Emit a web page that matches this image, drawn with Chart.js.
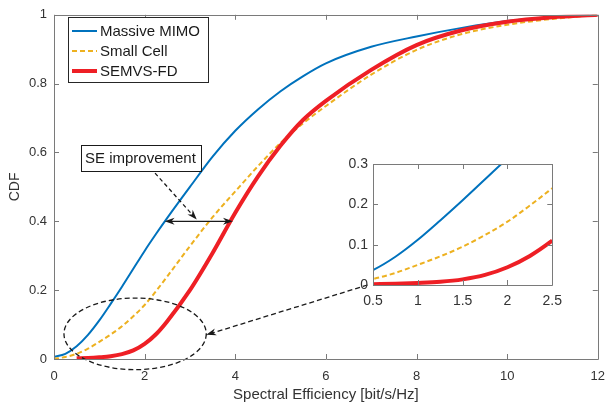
<!DOCTYPE html>
<html>
<head>
<meta charset="utf-8">
<script src="https://cdn.jsdelivr.net/npm/chart.js@4.4.0/dist/chart.umd.min.js"></script>
<style>
  html, body { margin: 0; padding: 0; background: #fff; }
  #wrap { position: relative; width: 615px; height: 411px; }
  #cdf { position: absolute; left: 0; top: 0; }
  #zoomed { position: absolute; left: 330px; top: 150px; }
</style>
</head>
<body>
<div id="wrap">
  <canvas id="cdf" width="615" height="411"></canvas>
  <canvas id="zoomed" width="240" height="165"></canvas>
</div>
<script>
// spectral efficiency samples (bit/s/Hz) and CDF of each scheme
var seAxis      = [0, 0.25, 0.5, 0.75, 1, 1.25, 1.5, 1.75, 2, 2.25, 2.5, 3, 3.5, 4, 4.5, 5, 5.5, 6, 7, 8, 9, 10, 11, 12];
var massiveMimo = [0.006, 0.015, 0.037, 0.07, 0.112, 0.16, 0.21, 0.262, 0.314, 0.363, 0.41, 0.5, 0.588, 0.663, 0.725, 0.778, 0.822, 0.859, 0.907, 0.937, 0.962, 0.982, 0.993, 1];
var smallCell   = [0, 0.006, 0.015, 0.03, 0.05, 0.071, 0.095, 0.124, 0.157, 0.197, 0.24, 0.328, 0.412, 0.487, 0.56, 0.628, 0.685, 0.735, 0.826, 0.898, 0.944, 0.971, 0.988, 1];
var semvsFd     = [null, null, 0.002, 0.003, 0.005, 0.008, 0.014, 0.025, 0.044, 0.072, 0.11, 0.2, 0.308, 0.425, 0.53, 0.62, 0.695, 0.75, 0.84, 0.912, 0.955, 0.98, 0.993, 1];

var seriesNames = ['Massive MIMO', 'Small Cell', 'SEMVS-FD'];
var xTicksMain = [0, 2, 4, 6, 8, 10, 12];
var yTicksMain = [0, 0.2, 0.4, 0.6, 0.8, 1];
var xTicksZoom = [0.5, 1, 1.5, 2, 2.5];
var yTicksZoom = [0, 0.1, 0.2, 0.3];

var BLUE = '#0072bd', YELLOW = '#edb120', RED = '#ee1f25';
var FRAME = '#7a7a7a', TEXT = '#333333';
var FONT = "'Liberation Sans', Arial, sans-serif";

Chart.defaults.font.family = FONT;
Chart.defaults.color = TEXT;

function points(vals) {
    var out = [];
    for (var i = 0; i < seAxis.length; i++) {
        if (vals[i] !== null) out.push({x: seAxis[i], y: vals[i]});
    }
    return out;
}

function makeDatasets() {
    return [
        {label: seriesNames[0], data: points(massiveMimo), borderColor: BLUE, borderWidth: 2, order: 2},
        {label: seriesNames[1], data: points(smallCell), borderColor: YELLOW, borderWidth: 2, borderDash: [5, 3], order: 1},
        {label: seriesNames[2], data: points(semvsFd), borderColor: RED, borderWidth: 4, order: 0}
    ].map(function (d) {
        d.pointRadius = 0;
        d.fill = false;
        d.cubicInterpolationMode = 'monotone';
        return d;
    });
}

// plain number labels: 1 not 1.0
function plainLabel(v) {
    return String(+Number(v).toFixed(2));
}

function fixedTicks(list) {
    return function (s) {
        s.ticks = list.map(function (v) { return {value: v}; });
    };
}

// box around the plot area with ticks pointing inward on all sides
function frameWithTicks(len) {
    return {
        id: 'frame',
        afterDraw: function (chart) {
            var ctx = chart.ctx, a = chart.chartArea;
            var x = chart.scales.x, y = chart.scales.y;
            ctx.save();
            ctx.strokeStyle = FRAME;
            ctx.lineWidth = 1;
            ctx.setLineDash([]);
            ctx.beginPath();
            ctx.rect(Math.round(a.left) + 0.5, Math.round(a.top) + 0.5, Math.round(a.right - a.left), Math.round(a.bottom - a.top));
            x.ticks.forEach(function (t) {
                var px = Math.round(x.getPixelForValue(t.value)) + 0.5;
                ctx.moveTo(px, a.bottom); ctx.lineTo(px, a.bottom - len);
                ctx.moveTo(px, a.top); ctx.lineTo(px, a.top + len);
            });
            y.ticks.forEach(function (t) {
                var py = Math.round(y.getPixelForValue(t.value)) + 0.5;
                ctx.moveTo(a.left, py); ctx.lineTo(a.left + len, py);
                ctx.moveTo(a.right, py); ctx.lineTo(a.right - len, py);
            });
            ctx.stroke();
            ctx.restore();
        }
    };
}

function arrowHead(ctx, x0, y0, x1, y1) {
    var ang = Math.atan2(y1 - y0, x1 - x0), len = 10, half = 3.5;
    var c = Math.cos(ang), s = Math.sin(ang);
    ctx.beginPath();
    ctx.moveTo(x1, y1);
    ctx.lineTo(x1 - len * c + half * s, y1 - len * s - half * c);
    ctx.lineTo(x1 - 0.7 * len * c, y1 - 0.7 * len * s);
    ctx.lineTo(x1 - len * c - half * s, y1 - len * s + half * c);
    ctx.closePath();
    ctx.fill();
}

// where the zoomed axes sit, in main-axis units
var zoomCorner = {x: 6.92, y: 0.215};
var ellipse = {x: 1.79, y: 0.073, rx: 1.57, ry: 0.104};

var notes = {
    id: 'notes',
    afterDatasetsDraw: function (chart) {
        var ctx = chart.ctx, x = chart.scales.x, y = chart.scales.y;
        ctx.save();
        ctx.strokeStyle = '#1a1a1a';
        ctx.fillStyle = '#1a1a1a';

        // SE improvement text box
        ctx.font = '15px ' + FONT;
        var bx = x.getPixelForValue(0.585), by = y.getPixelForValue(0.622);
        var label = 'SE improvement';
        var w = ctx.measureText(label).width + 9;
        ctx.lineWidth = 1;
        ctx.strokeRect(Math.round(bx) + 0.5, Math.round(by) + 0.5, Math.round(w), 26);
        ctx.textBaseline = 'middle';
        ctx.fillText(label, bx + 4.5, by + 14);

        // dashed pointer to the double arrow
        ctx.lineWidth = 1.3;
        var p0 = [x.getPixelForValue(2.23), y.getPixelForValue(0.54)];
        var p1 = [x.getPixelForValue(3.15), y.getPixelForValue(0.405)];
        ctx.setLineDash([4, 3]);
        ctx.beginPath(); ctx.moveTo(p0[0], p0[1]); ctx.lineTo(p1[0], p1[1]); ctx.stroke();
        ctx.setLineDash([]);
        arrowHead(ctx, p0[0], p0[1], p1[0], p1[1]);

        // horizontal gap between Massive MIMO and SEMVS-FD at CDF 0.4
        var ya = y.getPixelForValue(0.4);
        var xl = x.getPixelForValue(2.44), xr = x.getPixelForValue(3.95);
        ctx.beginPath(); ctx.moveTo(xl + 4, ya); ctx.lineTo(xr - 4, ya); ctx.stroke();
        arrowHead(ctx, xr, ya, xl, ya);
        arrowHead(ctx, xl, ya, xr, ya);

        // dashed ellipse round the low tail
        var cx = x.getPixelForValue(ellipse.x), cy = y.getPixelForValue(ellipse.y);
        var rx = x.getPixelForValue(ellipse.x + ellipse.rx) - cx;
        var ry = cy - y.getPixelForValue(ellipse.y + ellipse.ry);
        ctx.setLineDash([5, 3]);
        ctx.beginPath(); ctx.ellipse(cx, cy, rx, ry, 0, 0, Math.PI * 2); ctx.stroke();

        // dashed arrow from the zoomed axes back to the ellipse
        var q0 = [x.getPixelForValue(zoomCorner.x), y.getPixelForValue(zoomCorner.y)];
        var q1 = [cx + rx, cy + 1];
        ctx.beginPath(); ctx.moveTo(q0[0], q0[1]); ctx.lineTo(q1[0], q1[1]); ctx.stroke();
        ctx.setLineDash([]);
        arrowHead(ctx, q0[0], q0[1], q1[0], q1[1]);
        ctx.restore();
    }
};

var legendBox = {
    id: 'legendBox',
    afterDraw: function (chart) {
        var ctx = chart.ctx;
        var sets = chart.data.datasets;
        ctx.save();
        ctx.fillStyle = '#fff';
        ctx.fillRect(68, 17, 140, 65);
        ctx.strokeStyle = '#262626';
        ctx.lineWidth = 1;
        ctx.strokeRect(68.5, 17.5, 140, 65);
        ctx.font = '15px ' + FONT;
        ctx.textBaseline = 'middle';
        for (var i = 0; i < sets.length; i++) {
            var yy = 31 + i * 20;
            ctx.strokeStyle = sets[i].borderColor;
            ctx.lineWidth = sets[i].borderWidth;
            ctx.setLineDash(sets[i].borderDash || []);
            ctx.beginPath(); ctx.moveTo(72, yy); ctx.lineTo(97, yy); ctx.stroke();
            ctx.fillStyle = '#1a1a1a';
            ctx.fillText(sets[i].label, 100, yy + 1);
        }
        ctx.restore();
    }
};

var mainChart = new Chart(document.getElementById('cdf').getContext('2d'), {
    type: 'line',
    data: {datasets: makeDatasets()},
    options: {
        responsive: false,
        animation: false,
        layout: {padding: {top: 13, right: 8, left: 0, bottom: 0}},
        plugins: {legend: {display: false}, tooltip: {enabled: false}},
        scales: {
            x: {
                type: 'linear', min: 0, max: 12,
                afterBuildTicks: fixedTicks(xTicksMain),
                afterFit: function (s) { s.height = 52; },
                grid: {display: false, drawTicks: false},
                border: {display: false},
                ticks: {padding: 10, maxRotation: 0, font: {size: 13}, color: TEXT, callback: plainLabel},
                title: {display: true, text: 'Spectral Efficiency [bit/s/Hz]', font: {size: 15}, color: TEXT, padding: {top: 0, bottom: 7}}
            },
            y: {
                min: 0, max: 1,
                afterBuildTicks: fixedTicks(yTicksMain),
                afterFit: function (s) { s.width = 54; },
                grid: {display: false, drawTicks: false},
                border: {display: false},
                ticks: {padding: 7, font: {size: 13}, color: TEXT, callback: plainLabel},
                title: {display: true, text: 'CDF', font: {size: 14}, color: TEXT, padding: {top: 7, bottom: 0}}
            }
        }
    },
    plugins: [frameWithTicks(5), notes, legendBox]
});

var whiteArea = {
    id: 'whiteArea',
    beforeDraw: function (chart) {
        var a = chart.chartArea;
        chart.ctx.save();
        chart.ctx.fillStyle = '#fff';
        chart.ctx.fillRect(a.left, a.top, a.right - a.left, a.bottom - a.top);
        chart.ctx.restore();
    }
};

var zoomChart = new Chart(document.getElementById('zoomed').getContext('2d'), {
    type: 'line',
    data: {datasets: makeDatasets()},
    options: {
        responsive: false,
        animation: false,
        layout: {padding: {top: 14, right: 13, left: 0, bottom: 0}},
        plugins: {legend: {display: false}, tooltip: {enabled: false}},
        scales: {
            x: {
                type: 'linear', min: 0.5, max: 2.5,
                afterBuildTicks: fixedTicks(xTicksZoom),
                afterFit: function (s) { s.height = 30; },
                grid: {display: false, drawTicks: false},
                border: {display: false},
                ticks: {padding: 8, maxRotation: 0, font: {size: 14}, color: TEXT, callback: plainLabel}
            },
            y: {
                min: 0, max: 0.3,
                afterBuildTicks: fixedTicks(yTicksZoom),
                afterFit: function (s) { s.width = 43; },
                grid: {display: false, drawTicks: false},
                border: {display: false},
                ticks: {padding: 5, font: {size: 14}, color: TEXT, callback: plainLabel}
            }
        }
    },
    plugins: [whiteArea, frameWithTicks(5)]
});
</script>
</body>
</html>
